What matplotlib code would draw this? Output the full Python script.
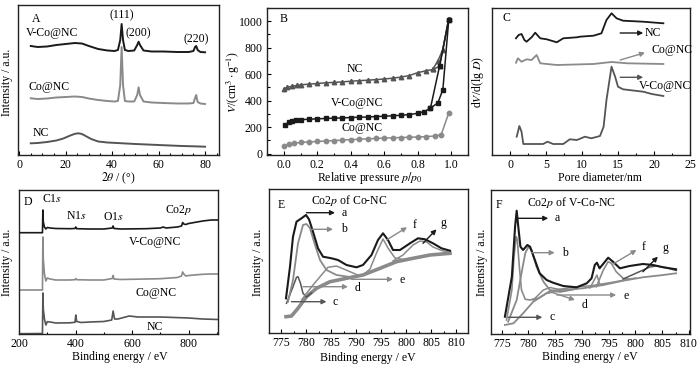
import matplotlib
matplotlib.use("Agg")
import matplotlib.pyplot as plt
from matplotlib.ticker import MultipleLocator

plt.rcParams['font.family'] = ['Liberation Serif', 'DejaVu Serif']
plt.rcParams['mathtext.fontset'] = 'stix'
FS = 8.5

BLK = '#1a1a1a'
GRY = '#8a8a8a'
DGR = '#555555'

# ---------------- Panel A: XRD ----------------
xrd_x = [5, 8, 12, 16, 20, 24, 27, 30, 34, 38, 41, 42.5, 43.5, 44.1, 44.7, 45.5, 47, 49.5, 50.8, 51.4, 52, 53.5,
         57, 62, 68, 73, 75, 75.7, 76.2, 76.8, 78, 80]
xrd_vco = [109, 108, 108.5, 110, 111, 112, 111.5, 109, 106, 104.5, 104, 105, 115, 131, 115, 105, 104, 104.5, 110,
           113.3, 110, 104.5, 103.5, 103.5, 103, 103, 104, 108, 109, 105, 103, 102.7]
xrd_co = [56.7, 56, 56.5, 57.5, 58, 58.5, 58, 56.5, 55, 54, 53.5, 54, 70, 108, 70, 54, 53.5, 53.5, 60, 67.7, 60,
          53.5, 52.5, 52, 51.5, 51.5, 52, 57, 60, 53, 51.5, 51]
xrd_nc_x = [5, 8, 12, 16, 19, 22, 24, 25.5, 27, 29, 31, 34, 38, 42, 46, 50, 55, 60, 65, 70, 75, 80]
xrd_nc = [11.7, 12, 13, 14.5, 16.5, 19.5, 21.2, 21.7, 21, 18.5, 16, 13.5, 12.5, 12, 11.5, 11, 10.5, 10, 9.5, 9,
          8.7, 8.3]

# ---------------- Panel B: N2 isotherms ----------------
nc_ads_p = [0.0, 0.02, 0.05, 0.08, 0.1, 0.15, 0.2, 0.25, 0.3, 0.35, 0.4, 0.45, 0.5, 0.55, 0.6, 0.65, 0.7, 0.75,
            0.8, 0.85, 0.89, 0.93, 0.985]
nc_ads_v = [489, 500, 510, 515, 520, 525, 530, 535, 538, 542, 547, 551, 555, 559, 564, 570, 578, 590, 612, 626,
            636, 660, 1020]
nc_des_p = [0.985, 0.95, 0.92, 0.889]
nc_des_v = [1020, 786, 700, 636]
vco_ads_p = [0.01, 0.03, 0.05, 0.075, 0.1, 0.15, 0.2, 0.25, 0.3, 0.35, 0.4, 0.45, 0.5, 0.55, 0.6, 0.65, 0.7, 0.75,
             0.8, 0.84, 0.876, 0.92, 0.95, 0.985]
vco_ads_v = [219, 238, 248, 254, 257, 260, 263, 266, 268, 270, 273, 275, 277, 280, 283, 286, 290, 295, 305, 318,
             345, 383, 484, 1010]
vco_des_p = [0.985, 0.93, 0.876]
vco_des_v = [1010, 660, 345]
co_ads_p = [0.0, 0.03, 0.06, 0.1, 0.15, 0.2, 0.25, 0.3, 0.35, 0.4, 0.45, 0.5, 0.55, 0.6, 0.65, 0.7, 0.75, 0.8,
            0.85, 0.9, 0.94, 0.985]
co_ads_v = [55, 70, 78, 85, 89, 92, 96, 99, 103, 106, 109, 112, 115, 118, 120, 122, 124, 126, 129, 133, 144, 307]

# ---------------- Panel C: pore size distribution ----------------
psd_nc_d = [0.83, 1.2, 1.6, 2.0, 2.3, 3.0, 3.5, 4.2, 5.1, 6.5, 7.4, 9.3, 9.7, 11.6, 12.7, 13.4, 14.1, 14.8, 15.7,
            18.5, 21.3]
psd_nc = [116.7, 120, 121, 115, 113.3, 117.7, 122.3, 116.7, 115.7, 112.7, 116.7, 117.7, 118.3, 119.3, 121.7, 135,
          141.7, 136.7, 134.3, 133.3, 131.7]
psd_co_d = [0.83, 1.1, 1.6, 2.3, 3.0, 3.7, 4.2, 6.5, 11.6, 14.1, 16.3, 21.3]
psd_co = [92.3, 96.7, 93.3, 95.7, 95, 100, 91.7, 90, 91, 93, 91.7, 91]
psd_vco_d = [0.93, 1.3, 1.6, 1.85, 4.6, 5.2, 6.0, 7.4, 8.3, 9.3, 10.4, 11.3, 12.5, 13.0, 13.4, 13.75, 14.1, 14.6,
             15.0, 15.7, 18.5, 19.7, 21.3]
psd_vco = [18.3, 29, 23.3, 11, 11, 13.3, 11, 11, 15.7, 15, 18.3, 16.7, 19, 28.3, 55, 71.7, 88.3, 78.3, 68.3, 65.7,
           63.3, 61, 59]

# ---------------- Panel D: XPS survey ----------------
sv_vco_e = [200, 283, 284.5, 286, 290, 295, 300, 310, 330, 380, 398, 401, 404, 450, 500, 530, 533, 536, 560, 650,
            700, 710, 720, 760, 775, 779, 783, 790, 800, 820, 850, 880, 904]
sv_vco = [101.3, 101.3, 124, 112, 107, 105, 106.5, 106, 105.5, 105.3, 105.5, 107, 105.3, 105, 105, 106, 108, 105.5,
          105, 105.3, 106, 107, 106, 107, 108, 111.5, 110, 109.5, 110.5, 111.5, 113, 114, 114]
sv_co_e = [200, 283, 284.5, 286, 290, 295, 300, 310, 330, 380, 398, 401, 404, 450, 500, 530, 533, 536, 560, 650,
           700, 760, 775, 779, 783, 790, 800, 820, 850, 880, 904]
sv_co = [44, 44, 97, 75, 60, 53, 56, 55, 54, 54, 54.3, 55.5, 54.3, 54, 54, 55.5, 58.5, 55, 54.5, 55, 55.3, 56.5,
         58, 62, 60, 58, 58.5, 59, 59.7, 60, 60]
sv_nc_e = [200, 283, 284.5, 286, 290, 295, 300, 310, 330, 380, 398, 401, 404, 420, 450, 500, 528, 533, 538, 550,
           570, 590, 620, 680, 700, 750, 800, 850, 904]
sv_nc = [0.3, 0.5, 41, 25, 15, 9, 12.3, 12, 11, 11.2, 11.7, 19, 12.5, 11.5, 12, 12.5, 14, 23, 15, 15, 16.5, 18,
         17, 17, 17, 16.5, 16, 15, 14.5]

# ---------------- Panel E: Co2p of Co-NC ----------------
e_a_x = [775.9, 776.7, 777.3, 778, 779, 779.9, 780.5, 781.3, 782.3, 783.3, 785, 786.3, 788, 790, 791.3, 793, 794.3,
         795.3, 796.3, 797.3, 798.7, 800.7, 802.3, 803.7, 805.3, 807, 808.7]
e_a = [34.7, 66.3, 96.3, 111.3, 114.7, 118, 113.7, 101.3, 84.7, 76.3, 74.7, 73, 68, 65.7, 68, 78, 93, 99.7, 93, 83,
       83, 89.7, 94.7, 93.7, 89.7, 84.7, 82.3]
e_bg_x = [775.9, 777, 778.3, 780, 782, 784.7, 788, 791.3, 794.7, 798, 801.3, 804.7, 808.7]
e_bg = [16.3, 17, 24.7, 36.3, 44.7, 51.3, 54.7, 58, 64.7, 71.3, 74.7, 78, 79.7]
e_b_x = [776.3, 777.3, 778.3, 779.3, 780, 780.7, 781.7, 782.7, 784, 786, 788.7, 790.3]
e_b = [31.3, 53, 89.7, 108, 109, 104.7, 88, 73, 63, 58, 56, 57.5]
e_c_x = [776, 777.3, 778, 778.3, 778.8, 779.3, 780, 781]
e_c = [29.7, 46.3, 55.7, 56.3, 49.7, 39.7, 36, 40]
e_d_x = [779, 781.3, 784.3, 786, 788.7, 790.7]
e_d = [33, 48, 65.7, 67, 61.3, 57]
e_f_x = [791.3, 792.7, 794, 795.3, 796.3, 797.7, 799.3, 800.7]
e_f = [58, 64, 80, 94, 85, 75, 73.5, 74.7]
e_g_x = [797.3, 799.3, 801.3, 802.7, 804, 805.3, 807, 808.7]
e_g = [72, 78, 88, 92, 91, 86, 82.5, 80.5]

# ---------------- Panel F: Co2p of V-Co-NC ----------------
f_a_x = [775.6, 776.9, 777.5, 777.8, 778.1, 778.5, 779.0, 779.8, 780.3, 781.2, 782.1, 783.4, 784.6, 786.5, 789,
         790.9, 791.8, 792.4, 792.8, 793.3, 794.3, 794.9, 795.8, 797.1, 798.9, 801.4, 803.3, 805.2, 807.6]
f_a = [17.3, 57.3, 107.3, 123.3, 107.3, 87.3, 84, 89, 87.3, 74, 60.7, 54, 51.3, 48, 46.7, 50.7, 55.7, 69, 71.3,
       65.7, 72.3, 76.3, 72.3, 65.7, 68, 70, 69, 66.7, 64.7]
f_bg_x = [775.6, 777.2, 779, 780.9, 783.4, 786.5, 790.2, 794, 797.7, 801.4, 805.2, 807.6]
f_bg = [9, 10.7, 20.7, 32.3, 40.7, 44, 45.7, 49, 53.3, 56.7, 59, 60.7]
f_b_x = [776.2, 777.8, 778.7, 779.4, 780, 780.6, 781.5, 782.8, 784, 785.9, 788.4]
f_b = [12.3, 34, 60.7, 80.7, 87.3, 84, 67.3, 52.3, 44, 42, 44.5]
f_c_x = [775.9, 776.9, 777.3, 777.7, 777.9, 778.3, 778.7, 779.4, 780.3, 781.5]
f_c = [14, 44, 77.3, 97.3, 95, 67.3, 44, 34.7, 34, 36]
f_d_x = [780.9, 782.8, 784, 785.3, 787.1, 789]
f_d = [34, 44, 46.5, 45, 44, 45.2]
f_e_x = [781, 784, 788, 792, 796, 800]
f_e = [33, 43, 46.5, 48.5, 52, 56]
f_f1_x = [791.5, 792.2, 792.8, 793.3, 794]
f_f1 = [46, 53, 59, 50, 49]
f_f_x = [792.7, 794, 794.9, 795.5, 796.4, 797.7, 798.9]
f_f = [47.3, 64, 72.3, 70.7, 62.3, 55.7, 54.7]
f_g_x = [797.7, 800.2, 802.7, 803.9, 805.8, 807.6]
f_g = [55, 61, 67, 68, 66.3, 63.5]

W, H = 700, 372
fig = plt.figure(figsize=(7, 3.72), dpi=100)


def add_ax(x0, y0, x1, y1):
    return fig.add_axes([x0 / W, 1 - y1 / H, (x1 - x0) / W, (y1 - y0) / H])


def style(ax, yticks=False):
    for s in ax.spines.values():
        s.set_linewidth(1.0)
        s.set_color('#222222')
    ax.tick_params(direction='in', labelsize=FS, length=3, width=0.8, top=False, right=False, pad=3)
    ax.tick_params(which='minor', direction='in', length=1.8, width=0.8, top=False, right=False)
    if not yticks:
        ax.set_yticks([])


def ftext(x, y, s, **kw):
    fig.text(x / W, 1 - y / H, s, ha='center', va='center', fontsize=FS, **kw)


def arrow(ax, p0, p1, color):
    ax.annotate('', xy=p1, xytext=p0,
                arrowprops=dict(arrowstyle='-|>', color=color, lw=1.0, mutation_scale=7,
                                shrinkA=0, shrinkB=0))


# ---- A
ax = add_ax(18, 5, 219, 155)
ax.plot(xrd_x, xrd_vco, color=BLK, lw=1.4)
ax.plot(xrd_x, xrd_co, color=GRY, lw=1.4)
ax.plot(xrd_nc_x, xrd_nc, color=DGR, lw=1.4)
ax.set_xlim(-0.5, 86)
ax.set_ylim(0, 150)
ax.xaxis.set_major_locator(MultipleLocator(20))
ax.xaxis.set_minor_locator(MultipleLocator(5))
style(ax)
ax.text(7.1, 135.7, 'A', fontsize=FS, ha='center', va='center')
ax.text(14.3, 121.7, 'V-Co@NC', fontsize=FS, ha='center', va='center')
ax.text(44.2, 140, '(111)', fontsize=FS, ha='center', va='center')
ax.text(51.3, 121.7, '(200)', fontsize=FS, ha='center', va='center')
ax.text(76.3, 115.7, '(220)', fontsize=FS, ha='center', va='center')
ax.text(12.8, 67.7, 'Co@NC', fontsize=FS, ha='center', va='center')
ax.text(9.3, 22.3, 'NC', fontsize=FS, ha='center', va='center')
ftext(7, 82, 'Intensity / a.u.', rotation=90)
ftext(118, 178, r'$2\theta$ / (°)')

# ---- B
ax = add_ax(267, 8, 468, 155)
ax.plot(nc_ads_p, nc_ads_v, color=DGR, lw=1.1, marker='^', ms=3.2)
ax.plot(nc_des_p, nc_des_v, color=DGR, lw=1.1, marker='^', ms=3.2)
ax.plot(vco_ads_p, vco_ads_v, color=BLK, lw=1.1, marker='s', ms=3.0)
ax.plot(vco_des_p, vco_des_v, color=BLK, lw=1.1, marker='s', ms=3.0)
ax.plot(co_ads_p, co_ads_v, color=GRY, lw=1.1, marker='o', ms=3.2)
ax.set_xlim(-0.1, 1.1)
ax.set_ylim(-10, 1100)
ax.xaxis.set_major_locator(MultipleLocator(0.2))
ax.xaxis.set_minor_locator(MultipleLocator(0.1))
ax.yaxis.set_major_locator(MultipleLocator(200))
ax.yaxis.set_minor_locator(MultipleLocator(100))
ax.set_xticks([0, 0.2, 0.4, 0.6, 0.8, 1.0])
ax.set_xticklabels(['0.0', '0.2', '0.4', '0.6', '0.8', '1.0'])
style(ax, yticks=True)
ax.text(0.0, 1018, 'B', fontsize=FS, ha='center', va='center')
ax.text(0.426, 640, 'NC', fontsize=FS, ha='center', va='center')
ax.text(0.44, 385, 'V-Co@NC', fontsize=FS, ha='center', va='center')
ax.text(0.47, 196, 'Co@NC', fontsize=FS, ha='center', va='center')
ftext(233, 82, r'$V$/(cm$^3\cdot$g$^{-1}$)', rotation=90)
ftext(370, 178, r'Relative pressure $p/p_0$')

# ---- C
ax = add_ax(492, 8, 690, 155)
ax.plot(psd_nc_d, psd_nc, color=BLK, lw=1.3)
ax.plot(psd_co_d, psd_co, color=GRY, lw=1.3)
ax.plot(psd_vco_d, psd_vco, color=DGR, lw=1.3)
ax.set_xlim(-2.5, 25)
ax.set_ylim(0, 147)
ax.xaxis.set_major_locator(MultipleLocator(5))
ax.xaxis.set_minor_locator(MultipleLocator(2.5))
style(ax)
arrow(ax, (15.3, 122), (18.5, 122), BLK)
ax.text(18.75, 122, 'NC', fontsize=FS, ha='left', va='center')
arrow(ax, (15.3, 95), (18.75, 102.3), GRY)
ax.text(19.6, 105, 'Co@NC', fontsize=FS, ha='left', va='center')
arrow(ax, (15.3, 77.7), (18.5, 77.7), DGR)
ax.text(17.9, 69.3, 'V-Co@NC', fontsize=FS, ha='left', va='center')
ax.text(-0.46, 136.7, 'C', fontsize=FS, ha='center', va='center')
ftext(478, 82, r'd$V$/d(lg $D$)', rotation=90)
ftext(600, 178, 'Pore diameter/nm')

# ---- D
ax = add_ax(19, 190, 218, 334)
ax.plot(sv_vco_e, sv_vco, color=BLK, lw=1.2)
ax.plot(sv_co_e, sv_co, color=GRY, lw=1.2)
ax.plot(sv_nc_e, sv_nc, color=DGR, lw=1.2)
ax.set_xlim(200, 904)
ax.set_ylim(0, 144)
ax.xaxis.set_major_locator(MultipleLocator(200))
ax.xaxis.set_minor_locator(MultipleLocator(100))
style(ax)
ax.text(233, 132, 'D', fontsize=FS, ha='center', va='center')
ax.text(315, 135, r'C1$s$', fontsize=FS, ha='center', va='center')
ax.text(403, 118, r'N1$s$', fontsize=FS, ha='center', va='center')
ax.text(533, 117.3, r'O1$s$', fontsize=FS, ha='center', va='center')
ax.text(766, 124, r'Co2$p$', fontsize=FS, ha='center', va='center')
ax.text(680, 92.3, 'V-Co@NC', fontsize=FS, ha='center', va='center')
ax.text(686, 40.7, 'Co@NC', fontsize=FS, ha='center', va='center')
ax.text(680, 6.5, 'NC', fontsize=FS, ha='center', va='center')
ftext(7, 262, 'Intensity / a.u.', rotation=90)
ftext(120, 357, 'Binding energy / eV')

# ---- E
ax = add_ax(269, 189, 468, 333)
ax.plot(e_bg_x, e_bg, color=GRY, lw=2.6)
ax.plot(e_c_x, e_c, color=DGR, lw=1.1)
ax.plot(e_d_x, e_d, color=GRY, lw=1.1)
ax.plot(e_f_x, e_f, color=GRY, lw=1.1)
ax.plot(e_g_x, e_g, color=GRY, lw=1.1)
ax.plot(e_b_x, e_b, color=GRY, lw=1.3)
ax.plot(e_a_x, e_a, color=BLK, lw=1.5)
ax.set_xlim(772.5, 812.3)
ax.set_ylim(0, 144)
ax.xaxis.set_major_locator(MultipleLocator(5))
ax.xaxis.set_minor_locator(MultipleLocator(2.5))
style(ax)
arrow(ax, (780.0, 120.3), (785.7, 120.3), BLK)
ax.text(787, 120.3, 'a', fontsize=FS, ha='left', va='center')
arrow(ax, (781.0, 103.7), (785.3, 103.7), GRY)
ax.text(787, 103.7, 'b', fontsize=FS, ha='left', va='center')
arrow(ax, (777.0, 31.3), (784.0, 31.3), DGR)
ax.text(785.3, 31.3, 'c', fontsize=FS, ha='left', va='center')
arrow(ax, (779.3, 46.3), (788.3, 46.3), GRY)
ax.text(789.7, 44.7, 'd', fontsize=FS, ha='left', va='center')
arrow(ax, (789.0, 53.7), (797.3, 53.7), GRY)
ax.text(798.7, 53, 'e', fontsize=FS, ha='left', va='center')
arrow(ax, (796.0, 93), (800.1, 105.7), GRY)
ax.text(801.2, 108, 'f', fontsize=FS, ha='left', va='center')
arrow(ax, (803.3, 89.7), (806.0, 103.7), BLK)
ax.text(806.8, 110.3, 'g', fontsize=FS, ha='left', va='center')
ax.text(775, 128, 'E', fontsize=FS, ha='center', va='center')
ax.text(781, 133, r'Co2$p$ of Co-NC', fontsize=FS, ha='left', va='center')
ftext(258, 262, 'Intensity / a.u.', rotation=90)
ftext(368, 358, 'Binding energy / eV')

# ---- F
ax = add_ax(491, 190, 690, 334)
ax.plot(f_bg_x, f_bg, color=GRY, lw=1.3)
ax.plot(f_e_x, f_e, color=GRY, lw=1.1)
ax.plot(f_d_x, f_d, color=GRY, lw=1.1)
ax.plot(f_c_x, f_c, color=GRY, lw=1.2)
ax.plot(f_b_x, f_b, color=GRY, lw=1.3)
ax.plot(f_f1_x, f_f1, color=GRY, lw=1.1)
ax.plot(f_f_x, f_f, color=GRY, lw=1.2)
ax.plot(f_g_x, f_g, color=DGR, lw=1.1)
ax.plot(f_a_x, f_a, color=BLK, lw=1.5)
ax.set_xlim(773, 810.2)
ax.set_ylim(0, 144)
ax.xaxis.set_major_locator(MultipleLocator(5))
ax.xaxis.set_minor_locator(MultipleLocator(2.5))
style(ax)
arrow(ax, (778.1, 115.7), (783.7, 115.7), BLK)
ax.text(784.9, 115.7, 'a', fontsize=FS, ha='left', va='center')
arrow(ax, (780.6, 81.3), (784.9, 81.3), GRY)
ax.text(786.2, 81.3, 'b', fontsize=FS, ha='left', va='center')
arrow(ax, (776.2, 16.7), (782.6, 16.7), DGR)
ax.text(784, 16.7, 'c', fontsize=FS, ha='left', va='center')
arrow(ax, (784.0, 42.3), (788.7, 34), GRY)
ax.text(789.9, 29, 'd', fontsize=FS, ha='left', va='center')
arrow(ax, (785.3, 39), (796.4, 39), GRY)
ax.text(797.7, 38, 'e', fontsize=FS, ha='left', va='center')
arrow(ax, (795.8, 70), (800.2, 84), GRY)
ax.text(801.2, 86.7, 'f', fontsize=FS, ha='left', va='center')
arrow(ax, (801.4, 62.3), (804.2, 77.3), BLK)
ax.text(805, 85.7, 'g', fontsize=FS, ha='left', va='center')
ax.text(774.4, 129, 'F', fontsize=FS, ha='center', va='center')
ax.text(779.7, 131, r'Co2$p$ of V-Co-NC', fontsize=FS, ha='left', va='center')
ftext(482, 262, 'Intensity / a.u.', rotation=90)
ftext(590, 357, 'Binding energy / eV')

fig.savefig('out.png', dpi=100)
